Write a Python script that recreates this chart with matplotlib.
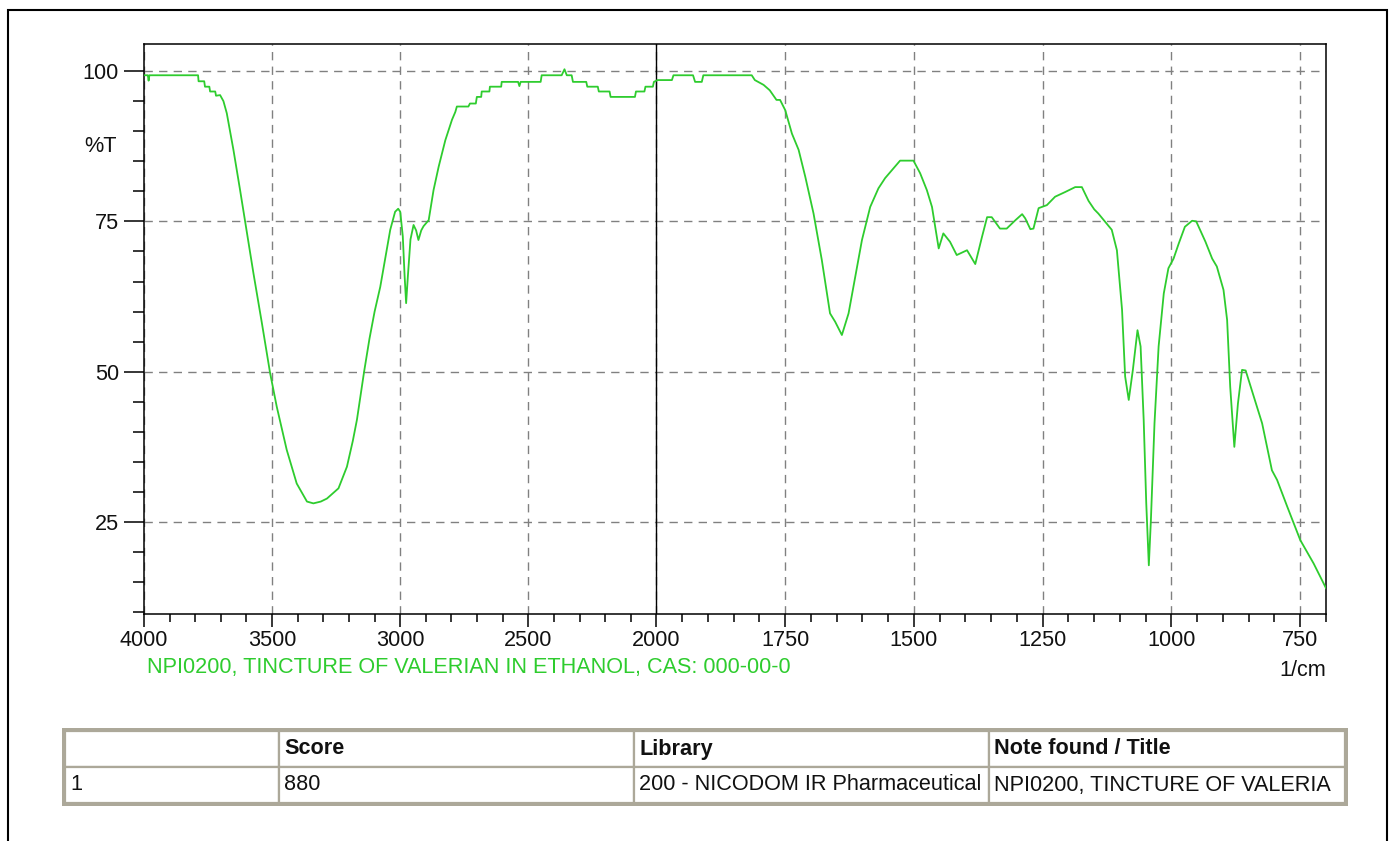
import matplotlib

matplotlib.use("Agg")

import matplotlib.pyplot as plt
import numpy as np
from matplotlib.patches import Rectangle
from matplotlib.ticker import FixedLocator

plt.rcParams["font.family"] = ["Liberation Sans", "DejaVu Sans"]

# spectrum (wavenumber in 1/cm, transmittance in %T)
WAVENUMBER = [
    4000, 3985, 3982, 3979, 3789, 3787, 3765, 3762, 3745, 3742, 3722, 3719,
    3703, 3690, 3677, 3651, 3625, 3605, 3573, 3540, 3508, 3482, 3443, 3404,
    3364, 3339, 3310, 3286, 3241, 3208, 3185, 3169, 3141, 3120, 3100, 3078,
    3060, 3039, 3020, 3008, 3000, 2990, 2983, 2977, 2970, 2960, 2948, 2938,
    2929, 2918, 2909, 2889, 2870, 2850, 2824, 2798, 2785, 2779, 2734, 2728,
    2705, 2701, 2684, 2682, 2652, 2650, 2606, 2604, 2540, 2535, 2530, 2452,
    2448, 2370, 2359, 2350, 2331, 2326, 2274, 2270, 2229, 2225, 2183, 2179,
    2084, 2080, 2047, 2043, 2014, 2010, 1998, 1970, 1967, 1929, 1925, 1912,
    1909, 1815, 1809, 1792, 1780, 1767, 1760, 1750, 1737, 1724, 1711, 1695,
    1679, 1663, 1653, 1640, 1627, 1614, 1601, 1585, 1569, 1556, 1543, 1527,
    1501, 1488, 1475, 1465, 1452, 1443, 1430, 1417, 1397, 1381, 1368, 1358,
    1349, 1333, 1320, 1303, 1290, 1284, 1274, 1268, 1258, 1242, 1226, 1206,
    1187, 1174, 1161, 1150, 1142, 1116, 1106, 1096, 1090, 1083, 1075, 1066,
    1060, 1054, 1049, 1044, 1040, 1033, 1025, 1015, 1006, 996, 986, 974,
    960, 952, 934, 921, 912, 899, 892, 886, 878, 871, 863, 856,
    840, 824, 805, 795, 775, 750, 724, 700,
]
TRANSMITTANCE = [
    99.3, 99.3, 98.4, 99.3, 99.3, 98.3, 98.3, 97.4, 97.4, 96.6, 96.6, 95.9,
    96.0, 95.0, 93.0, 86.9, 80.2, 74.9, 66.4, 58.1, 49.8, 44.2, 37.0, 31.4,
    28.4, 28.1, 28.4, 28.9, 30.6, 34.2, 38.5, 42.0, 50.0, 55.5, 60.0, 64.1,
    68.5, 73.6, 76.6, 77.1, 76.6, 72.5, 66.0, 61.4, 66.0, 72.0, 74.4, 73.5,
    71.9, 73.5, 74.2, 75.2, 80.2, 84.1, 88.5, 91.9, 93.2, 94.1, 94.1, 94.6,
    94.6, 95.7, 95.7, 96.6, 96.6, 97.4, 97.4, 98.2, 98.2, 97.5, 98.2, 98.2,
    99.3, 99.3, 100.3, 99.3, 99.3, 98.2, 98.2, 97.4, 97.4, 96.6, 96.6, 95.7,
    95.7, 96.6, 96.6, 97.4, 97.4, 98.2, 98.5, 98.5, 99.3, 99.3, 98.2, 98.2,
    99.3, 99.3, 98.5, 97.7, 96.8, 95.2, 95.2, 93.5, 89.6, 86.9, 82.4, 76.3,
    68.6, 59.7, 58.3, 56.1, 59.7, 65.8, 71.9, 77.4, 80.5, 82.2, 83.5, 85.1,
    85.1, 83.0, 80.2, 77.4, 70.5, 73.0, 71.6, 69.4, 70.2, 67.9, 72.4, 75.7,
    75.7, 73.8, 73.8, 75.2, 76.2, 75.5, 73.7, 73.8, 77.2, 77.7, 79.1, 79.9,
    80.7, 80.7, 78.4, 77.0, 76.3, 73.6, 70.2, 60.3, 49.2, 45.3, 50.3, 56.9,
    54.2, 42.0, 28.1, 17.8, 25.3, 41.4, 54.2, 63.0, 67.2, 68.8, 71.3, 74.1,
    75.1, 75.0, 71.6, 68.8, 67.5, 63.6, 58.6, 47.5, 37.5, 44.7, 50.3, 50.2,
    45.8, 41.4, 33.6, 32.0, 27.5, 22.0, 18.1, 14.0,
]

X_MAJOR = [4000, 3500, 3000, 2500, 2000, 1750, 1500, 1250, 1000, 750]
X_MINOR = list(range(3900, 2000, -100)) + list(range(1950, 650, -50))
Y_MAJOR = [25, 50, 75, 100]
Y_MINOR = list(range(10, 105, 5))

Y_LABEL = "%T"
X_UNIT = "1/cm"
CAPTION = "NPI0200, TINCTURE OF VALERIAN IN ETHANOL, CAS: 000-00-0"

TABLE_HEADER = ["", "Score", "Library", "Note found / Title"]
TABLE_ROW = ["1", "880", "200 - NICODOM IR Pharmaceutical", "NPI0200, TINCTURE OF VALERIA"]

W, H = 1394, 841
GREEN = "#2ecc2e"
GRID = "#808080"
TABLE_GRAY = "#aca899"
TEXT = "#111111"
FONT_SIZE = 15.6

# the region below 2000 1/cm is drawn about twice as wide
STRETCH = 2.01


def forward(w):
    w = np.asarray(w, dtype=float)
    return np.where(w >= 2000, w, 2000 - (2000 - w) * STRETCH)


def inverse(p):
    p = np.asarray(p, dtype=float)
    return np.where(p >= 2000, p, 2000 - (2000 - p) / STRETCH)


def px_box(x0, y0, x1, y1):
    """Figure-fraction rect from pixel corners (y measured from the top)."""
    return [x0 / W, 1 - y1 / H, (x1 - x0) / W, (y1 - y0) / H]


def draw_spectrum(fig):
    ax = fig.add_axes(px_box(144, 44, 1326, 614))
    ax.set_xscale("function", functions=(forward, inverse))
    ax.set_xlim(4000, 700)
    ax.set_ylim(9.7, 104.5)

    ax.plot(WAVENUMBER, TRANSMITTANCE, color=GREEN, linewidth=1.3, zorder=3)

    ax.xaxis.set_major_locator(FixedLocator(X_MAJOR))
    ax.xaxis.set_minor_locator(FixedLocator(X_MINOR))
    ax.yaxis.set_major_locator(FixedLocator(Y_MAJOR))
    ax.yaxis.set_minor_locator(FixedLocator(Y_MINOR))
    ax.set_xticklabels([str(v) for v in X_MAJOR])
    ax.set_yticklabels([str(v) for v in Y_MAJOR])

    ax.grid(True, which="major", color=GRID, linestyle=(0, (6, 4.5)), linewidth=1.0)
    ax.set_axisbelow(True)
    ax.axvline(2000, color="black", linewidth=1.0, zorder=2)

    ax.tick_params(axis="y", which="major", length=14.5, width=1.1, pad=3.5,
                   labelsize=FONT_SIZE, labelcolor=TEXT)
    ax.tick_params(axis="y", which="minor", length=8, width=1.1)
    ax.tick_params(axis="x", which="major", length=9.4, width=1.1, pad=2,
                   labelsize=FONT_SIZE, labelcolor=TEXT)
    ax.tick_params(axis="x", which="minor", length=5.8, width=1.1)
    for spine in ax.spines.values():
        spine.set_linewidth(1.1)

    ax.text(-0.0228, 87.4, Y_LABEL, transform=ax.get_yaxis_transform(),
            ha="right", va="center", fontsize=FONT_SIZE, color=TEXT)
    ax.text(1.0, -(670 - 614) / 570, X_UNIT, transform=ax.transAxes,
            ha="right", va="center", fontsize=FONT_SIZE, color=TEXT)
    ax.text((147 - 144) / 1182, -(668 - 614) / 570, CAPTION, transform=ax.transAxes,
            ha="left", va="center", fontsize=FONT_SIZE, color=GREEN)
    return ax


def draw_table(fig):
    col_px = [215, 357, 356, 358]
    total = sum(col_px)
    tab_ax = fig.add_axes(px_box(62, 728, 1348, 806))
    tab_ax.set_axis_off()
    tab_ax.add_patch(Rectangle((0, 0), 1, 1, transform=tab_ax.transAxes,
                               facecolor=TABLE_GRAY, edgecolor="none", zorder=0))

    ix, iy = 3 / total, 3 / 78
    table = tab_ax.table(
        cellText=[TABLE_ROW],
        colLabels=TABLE_HEADER,
        colWidths=[c / total for c in col_px],
        cellLoc="left",
        colLoc="left",
        bbox=[ix, iy, 1 - 2 * ix, 1 - 2 * iy],
    )
    table.set_zorder(2)
    table.auto_set_font_size(False)
    table.set_fontsize(FONT_SIZE)
    for (row, col), cell in table.get_celld().items():
        cell.set_edgecolor(TABLE_GRAY)
        cell.set_linewidth(1.6)
        cell.set_facecolor("white")
        cell.PAD = 5 / col_px[col]
        cell.get_text().set_color(TEXT)
        if row == 0:
            cell.get_text().set_fontweight("bold")


def main():
    fig = plt.figure(figsize=(W / 100, H / 100), dpi=100)
    fig.patch.set_facecolor("white")

    # outer frame of the screenshot
    fig.add_artist(Rectangle((8 / W, -0.02), (1387 - 8) / W, 1 - 10 / H + 0.02,
                             transform=fig.transFigure, fill=False,
                             edgecolor="black", linewidth=1.5))

    draw_spectrum(fig)
    draw_table(fig)

    fig.savefig("out.png", dpi=100)
    plt.close(fig)


if __name__ == "__main__":
    main()
